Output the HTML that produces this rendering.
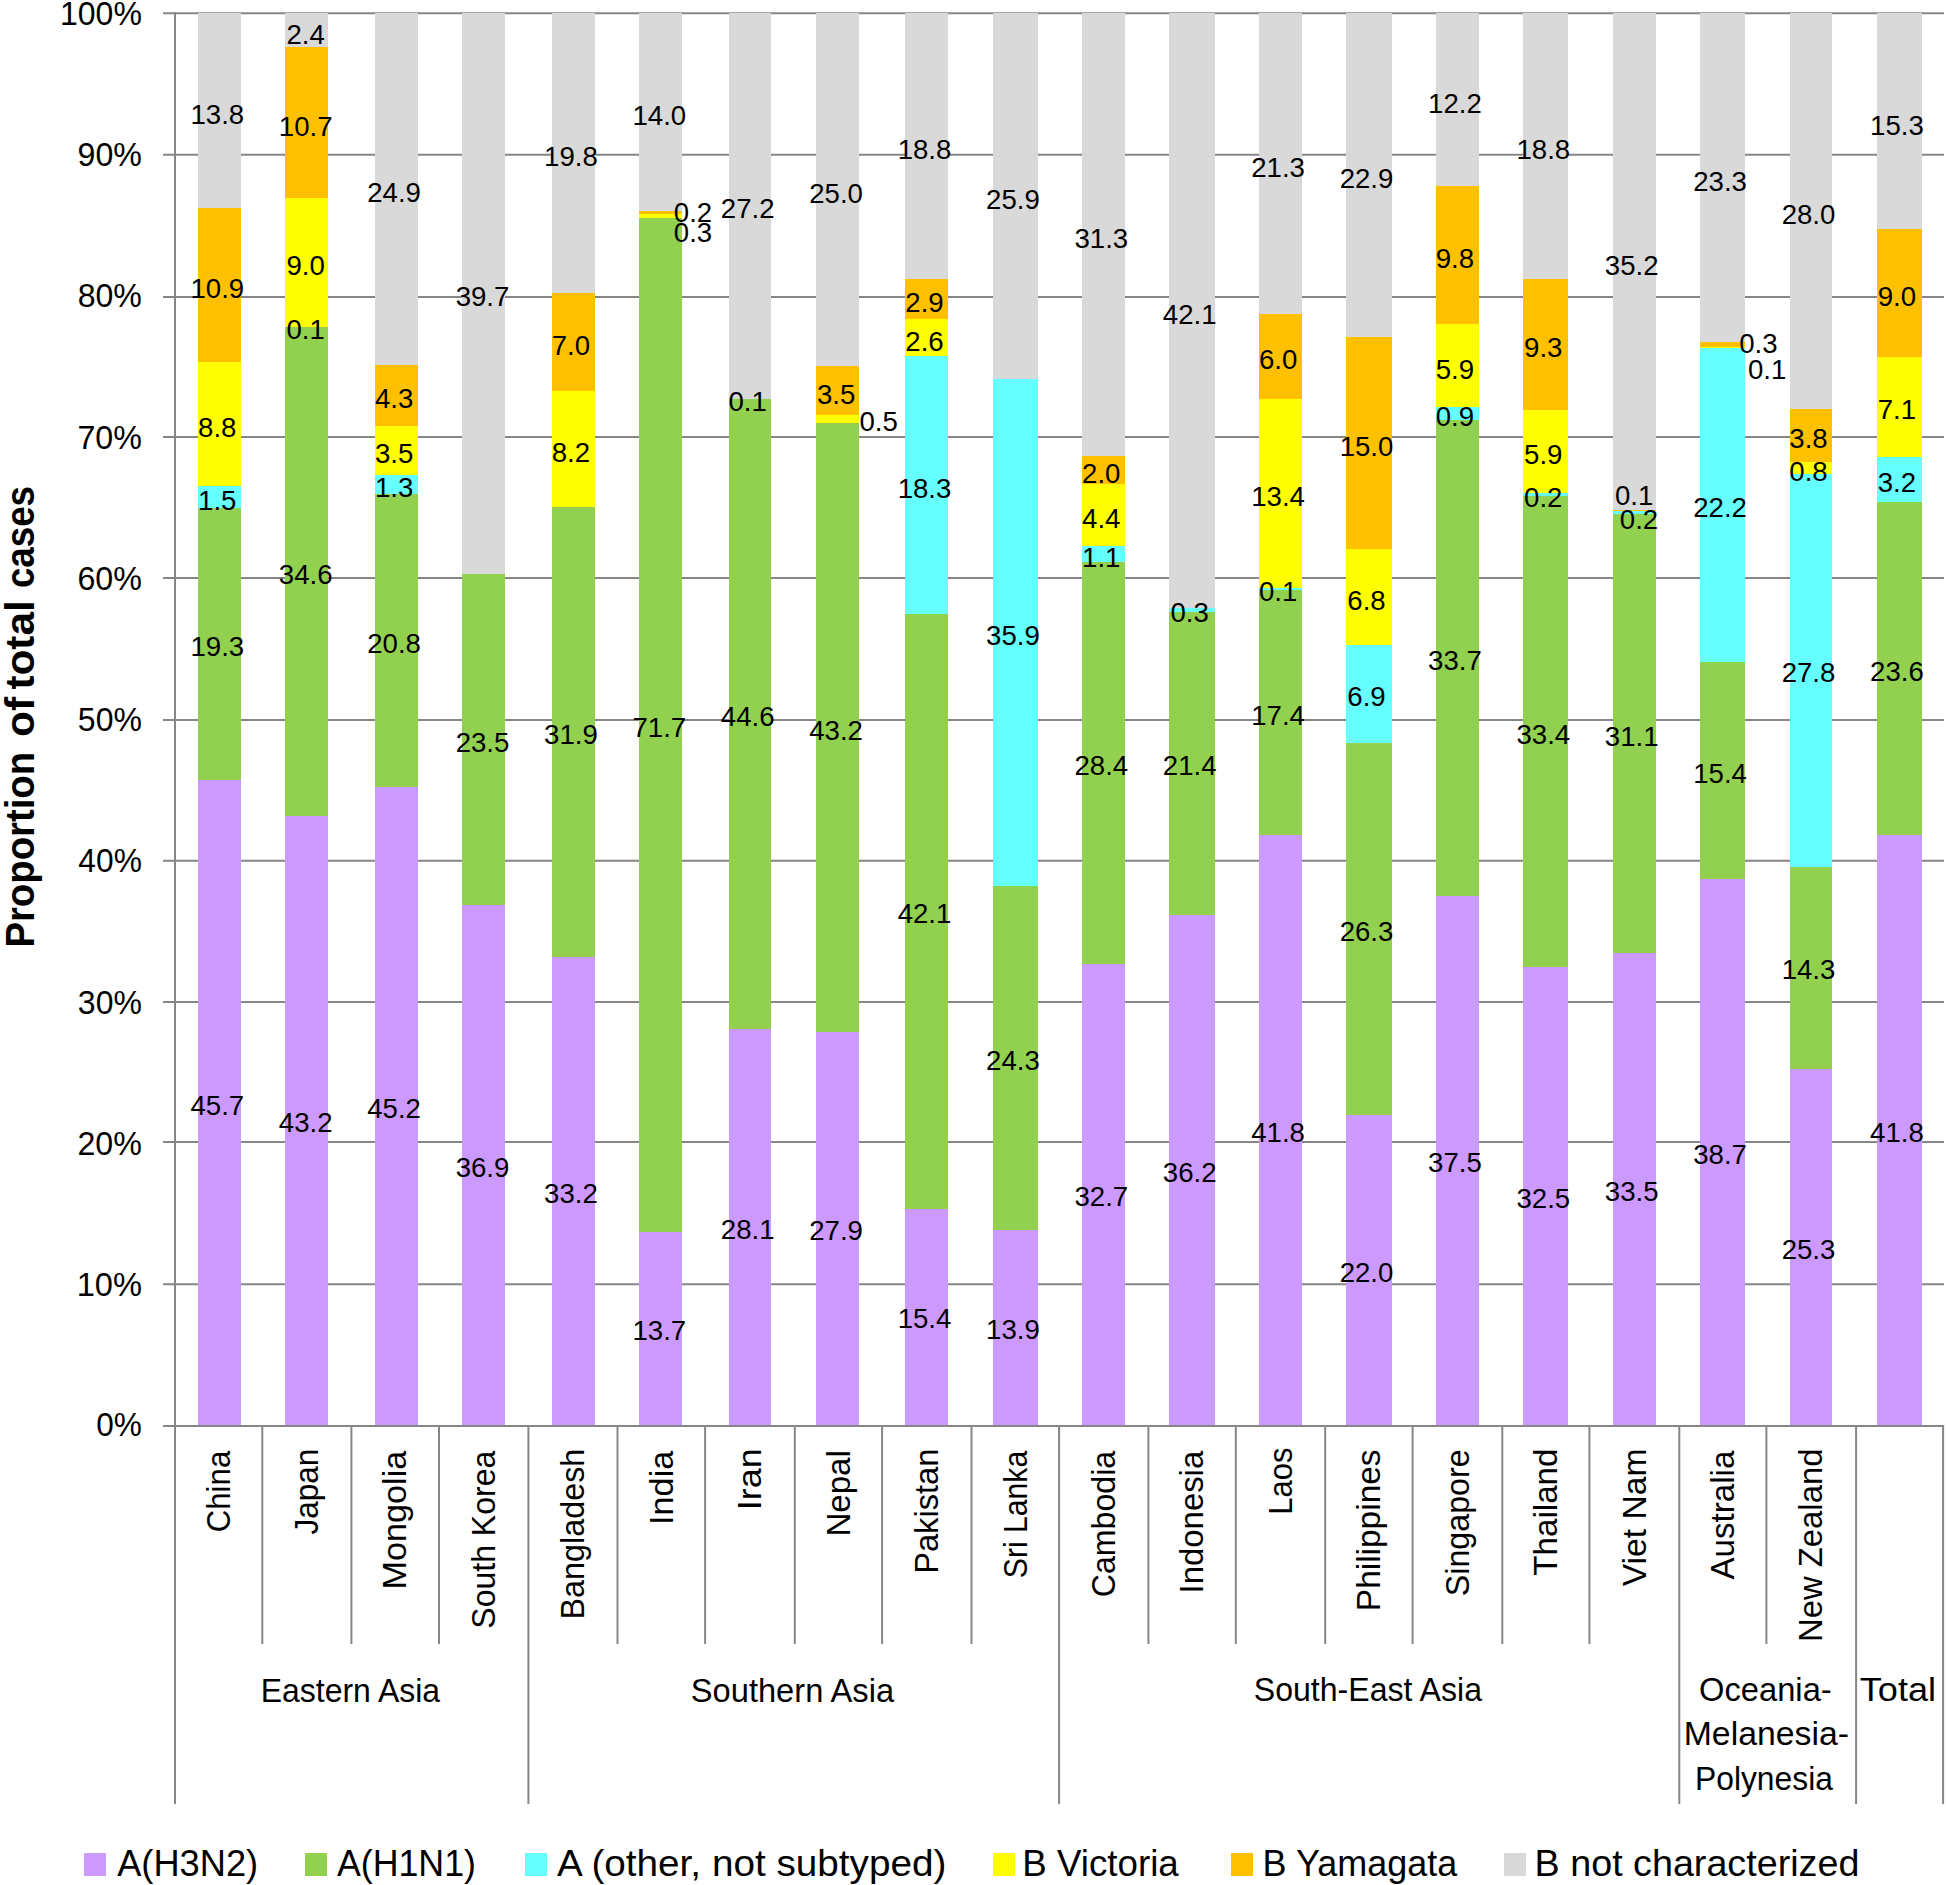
<!DOCTYPE html>
<html lang="en"><head><meta charset="utf-8"><title>Proportion of total cases by influenza virus type and subtype</title>
<style>html,body{margin:0;padding:0;background:#fff}body{width:1946px;height:1885px;overflow:hidden}svg{display:block}</style>
</head><body>
<svg width="1946" height="1885" viewBox="0 0 1946 1885" font-family="'Liberation Sans', sans-serif" fill="#000">
<rect width="1946" height="1885" fill="#fff"/>
<g stroke="#868686" stroke-width="2" fill="none">
<line x1="163" y1="1284.20" x2="1944.0" y2="1284.20"/>
<line x1="163" y1="1142.10" x2="1944.0" y2="1142.10"/>
<line x1="163" y1="1002.00" x2="1944.0" y2="1002.00"/>
<line x1="163" y1="860.70" x2="1944.0" y2="860.70"/>
<line x1="163" y1="720.10" x2="1944.0" y2="720.10"/>
<line x1="163" y1="578.00" x2="1944.0" y2="578.00"/>
<line x1="163" y1="437.00" x2="1944.0" y2="437.00"/>
<line x1="163" y1="296.90" x2="1944.0" y2="296.90"/>
<line x1="163" y1="154.80" x2="1944.0" y2="154.80"/>
<line x1="163" y1="13.20" x2="1944.0" y2="13.20"/>
</g>
<g shape-rendering="crispEdges">
<rect x="197.80" y="780.35" width="43.10" height="645.65" fill="#CC99FF"/>
<rect x="197.80" y="507.68" width="43.10" height="272.67" fill="#92D050"/>
<rect x="197.80" y="486.49" width="43.10" height="21.19" fill="#66FFFF"/>
<rect x="197.80" y="362.16" width="43.10" height="124.33" fill="#FFFF00"/>
<rect x="197.80" y="208.17" width="43.10" height="154.00" fill="#FFC000"/>
<rect x="197.80" y="13.20" width="43.10" height="194.97" fill="#D9D9D9"/>
<rect x="285.10" y="815.67" width="43.20" height="610.33" fill="#CC99FF"/>
<rect x="285.10" y="326.84" width="43.20" height="488.83" fill="#92D050"/>
<rect x="285.10" y="325.43" width="43.20" height="1.41" fill="#FFFF00"/>
<rect x="285.10" y="198.28" width="43.20" height="127.15" fill="#FFFF00"/>
<rect x="285.10" y="47.11" width="43.20" height="151.17" fill="#FFC000"/>
<rect x="285.10" y="13.20" width="43.20" height="33.91" fill="#D9D9D9"/>
<rect x="374.80" y="787.41" width="42.90" height="638.59" fill="#CC99FF"/>
<rect x="374.80" y="493.55" width="42.90" height="293.86" fill="#92D050"/>
<rect x="374.80" y="475.19" width="42.90" height="18.37" fill="#66FFFF"/>
<rect x="374.80" y="425.74" width="42.90" height="49.45" fill="#FFFF00"/>
<rect x="374.80" y="364.99" width="42.90" height="60.75" fill="#FFC000"/>
<rect x="374.80" y="13.20" width="42.90" height="351.79" fill="#D9D9D9"/>
<rect x="462.20" y="905.20" width="42.90" height="520.80" fill="#CC99FF"/>
<rect x="462.20" y="573.52" width="42.90" height="331.68" fill="#92D050"/>
<rect x="462.20" y="13.20" width="42.90" height="560.32" fill="#D9D9D9"/>
<rect x="551.60" y="957.42" width="43.10" height="468.58" fill="#CC99FF"/>
<rect x="551.60" y="507.19" width="43.10" height="450.23" fill="#92D050"/>
<rect x="551.60" y="391.45" width="43.10" height="115.73" fill="#FFFF00"/>
<rect x="551.60" y="292.65" width="43.10" height="98.80" fill="#FFC000"/>
<rect x="551.60" y="13.20" width="43.10" height="279.45" fill="#D9D9D9"/>
<rect x="638.50" y="1232.25" width="43.20" height="193.75" fill="#CC99FF"/>
<rect x="638.50" y="218.26" width="43.20" height="1013.99" fill="#92D050"/>
<rect x="638.50" y="214.02" width="43.20" height="4.24" fill="#FFFF00"/>
<rect x="638.50" y="211.19" width="43.20" height="2.83" fill="#FFC000"/>
<rect x="638.50" y="13.20" width="43.20" height="197.99" fill="#D9D9D9"/>
<rect x="728.50" y="1029.00" width="42.90" height="397.00" fill="#CC99FF"/>
<rect x="728.50" y="398.89" width="42.90" height="630.11" fill="#92D050"/>
<rect x="728.50" y="397.48" width="42.90" height="1.41" fill="#D9D9D9"/>
<rect x="728.50" y="13.20" width="42.90" height="384.28" fill="#D9D9D9"/>
<rect x="815.80" y="1032.22" width="43.20" height="393.78" fill="#CC99FF"/>
<rect x="815.80" y="422.50" width="43.20" height="609.72" fill="#92D050"/>
<rect x="815.80" y="415.45" width="43.20" height="7.06" fill="#FFFF00"/>
<rect x="815.80" y="366.05" width="43.20" height="49.40" fill="#FFC000"/>
<rect x="815.80" y="13.20" width="43.20" height="352.85" fill="#D9D9D9"/>
<rect x="905.20" y="1208.65" width="43.20" height="217.35" fill="#CC99FF"/>
<rect x="905.20" y="614.45" width="43.20" height="594.19" fill="#92D050"/>
<rect x="905.20" y="356.17" width="43.20" height="258.28" fill="#66FFFF"/>
<rect x="905.20" y="319.47" width="43.20" height="36.70" fill="#FFFF00"/>
<rect x="905.20" y="278.54" width="43.20" height="40.93" fill="#FFC000"/>
<rect x="905.20" y="13.20" width="43.20" height="265.34" fill="#D9D9D9"/>
<rect x="992.90" y="1229.62" width="44.70" height="196.38" fill="#CC99FF"/>
<rect x="992.90" y="886.31" width="44.70" height="343.31" fill="#92D050"/>
<rect x="992.90" y="379.12" width="44.70" height="507.20" fill="#66FFFF"/>
<rect x="992.90" y="13.20" width="44.70" height="365.92" fill="#D9D9D9"/>
<rect x="1081.90" y="963.55" width="43.10" height="462.45" fill="#CC99FF"/>
<rect x="1081.90" y="561.92" width="43.10" height="401.64" fill="#92D050"/>
<rect x="1081.90" y="546.36" width="43.10" height="15.56" fill="#66FFFF"/>
<rect x="1081.90" y="484.13" width="43.10" height="62.23" fill="#FFFF00"/>
<rect x="1081.90" y="455.85" width="43.10" height="28.28" fill="#FFC000"/>
<rect x="1081.90" y="13.20" width="43.10" height="442.65" fill="#D9D9D9"/>
<rect x="1169.20" y="914.57" width="45.50" height="511.43" fill="#CC99FF"/>
<rect x="1169.20" y="612.23" width="45.50" height="302.34" fill="#92D050"/>
<rect x="1169.20" y="607.99" width="45.50" height="4.24" fill="#66FFFF"/>
<rect x="1169.20" y="13.20" width="45.50" height="594.79" fill="#D9D9D9"/>
<rect x="1258.90" y="835.45" width="43.20" height="590.55" fill="#CC99FF"/>
<rect x="1258.90" y="589.62" width="43.20" height="245.83" fill="#92D050"/>
<rect x="1258.90" y="588.21" width="43.20" height="1.41" fill="#66FFFF"/>
<rect x="1258.90" y="398.89" width="43.20" height="189.32" fill="#FFFF00"/>
<rect x="1258.90" y="314.13" width="43.20" height="84.77" fill="#FFC000"/>
<rect x="1258.90" y="13.20" width="43.20" height="300.93" fill="#D9D9D9"/>
<rect x="1346.30" y="1114.87" width="45.20" height="311.13" fill="#CC99FF"/>
<rect x="1346.30" y="742.93" width="45.20" height="371.94" fill="#92D050"/>
<rect x="1346.30" y="645.35" width="45.20" height="97.58" fill="#66FFFF"/>
<rect x="1346.30" y="549.19" width="45.20" height="96.17" fill="#FFFF00"/>
<rect x="1346.30" y="337.06" width="45.20" height="212.13" fill="#FFC000"/>
<rect x="1346.30" y="13.20" width="45.20" height="323.86" fill="#D9D9D9"/>
<rect x="1435.70" y="896.20" width="43.20" height="529.80" fill="#CC99FF"/>
<rect x="1435.70" y="420.09" width="43.20" height="476.11" fill="#92D050"/>
<rect x="1435.70" y="407.37" width="43.20" height="12.72" fill="#66FFFF"/>
<rect x="1435.70" y="324.02" width="43.20" height="83.36" fill="#FFFF00"/>
<rect x="1435.70" y="185.56" width="43.20" height="138.45" fill="#FFC000"/>
<rect x="1435.70" y="13.20" width="43.20" height="172.36" fill="#D9D9D9"/>
<rect x="1523.10" y="967.30" width="45.20" height="458.70" fill="#CC99FF"/>
<rect x="1523.10" y="495.89" width="45.20" height="471.40" fill="#92D050"/>
<rect x="1523.10" y="493.07" width="45.20" height="2.82" fill="#66FFFF"/>
<rect x="1523.10" y="409.80" width="45.20" height="83.27" fill="#FFFF00"/>
<rect x="1523.10" y="278.54" width="45.20" height="131.26" fill="#FFC000"/>
<rect x="1523.10" y="13.20" width="45.20" height="265.34" fill="#D9D9D9"/>
<rect x="1612.50" y="953.18" width="43.20" height="472.82" fill="#CC99FF"/>
<rect x="1612.50" y="514.24" width="43.20" height="438.94" fill="#92D050"/>
<rect x="1612.50" y="511.42" width="43.20" height="2.82" fill="#66FFFF"/>
<rect x="1612.50" y="510.01" width="43.20" height="1.41" fill="#FFC000"/>
<rect x="1612.50" y="13.20" width="43.20" height="496.81" fill="#D9D9D9"/>
<rect x="1699.90" y="879.25" width="45.40" height="546.75" fill="#CC99FF"/>
<rect x="1699.90" y="661.68" width="45.40" height="217.57" fill="#92D050"/>
<rect x="1699.90" y="348.03" width="45.40" height="313.64" fill="#66FFFF"/>
<rect x="1699.90" y="346.62" width="45.40" height="1.41" fill="#FFFF00"/>
<rect x="1699.90" y="342.38" width="45.40" height="4.24" fill="#FFC000"/>
<rect x="1699.90" y="13.20" width="45.40" height="329.18" fill="#D9D9D9"/>
<rect x="1789.50" y="1068.56" width="42.90" height="357.44" fill="#CC99FF"/>
<rect x="1789.50" y="866.53" width="42.90" height="202.03" fill="#92D050"/>
<rect x="1789.50" y="473.77" width="42.90" height="392.76" fill="#66FFFF"/>
<rect x="1789.50" y="462.47" width="42.90" height="11.30" fill="#FFFF00"/>
<rect x="1789.50" y="408.78" width="42.90" height="53.69" fill="#FFC000"/>
<rect x="1789.50" y="13.20" width="42.90" height="395.58" fill="#D9D9D9"/>
<rect x="1876.90" y="835.45" width="45.20" height="590.55" fill="#CC99FF"/>
<rect x="1876.90" y="502.03" width="45.20" height="333.42" fill="#92D050"/>
<rect x="1876.90" y="456.82" width="45.20" height="45.21" fill="#66FFFF"/>
<rect x="1876.90" y="356.51" width="45.20" height="100.31" fill="#FFFF00"/>
<rect x="1876.90" y="229.36" width="45.20" height="127.15" fill="#FFC000"/>
<rect x="1876.90" y="13.20" width="45.20" height="216.16" fill="#D9D9D9"/>
</g>
<g stroke="#868686" stroke-width="2" fill="none">
<line x1="175.0" y1="12.2" x2="175.0" y2="1804"/>
<line x1="163" y1="1426.0" x2="1944.1" y2="1426.0"/>
<line x1="262.30" y1="1426.0" x2="262.30" y2="1644"/>
<line x1="351.40" y1="1426.0" x2="351.40" y2="1644"/>
<line x1="439.00" y1="1426.0" x2="439.00" y2="1644"/>
<line x1="528.40" y1="1426.0" x2="528.40" y2="1804"/>
<line x1="617.50" y1="1426.0" x2="617.50" y2="1644"/>
<line x1="705.10" y1="1426.0" x2="705.10" y2="1644"/>
<line x1="794.80" y1="1426.0" x2="794.80" y2="1644"/>
<line x1="882.10" y1="1426.0" x2="882.10" y2="1644"/>
<line x1="971.50" y1="1426.0" x2="971.50" y2="1644"/>
<line x1="1059.10" y1="1426.0" x2="1059.10" y2="1804"/>
<line x1="1148.40" y1="1426.0" x2="1148.40" y2="1644"/>
<line x1="1235.80" y1="1426.0" x2="1235.80" y2="1644"/>
<line x1="1325.20" y1="1426.0" x2="1325.20" y2="1644"/>
<line x1="1412.60" y1="1426.0" x2="1412.60" y2="1644"/>
<line x1="1502.30" y1="1426.0" x2="1502.30" y2="1644"/>
<line x1="1589.40" y1="1426.0" x2="1589.40" y2="1644"/>
<line x1="1679.30" y1="1426.0" x2="1679.30" y2="1804"/>
<line x1="1766.40" y1="1426.0" x2="1766.40" y2="1644"/>
<line x1="1856.10" y1="1426.0" x2="1856.10" y2="1804"/>
<line x1="1943.10" y1="1426.0" x2="1943.10" y2="1804"/>
</g>
<g>
<text x="96.28" y="1436.06" font-size="33.6" textLength="45.61" lengthAdjust="spacingAndGlyphs">0%</text>
<text x="76.67" y="1296.18" font-size="33.6" textLength="65.24" lengthAdjust="spacingAndGlyphs">10%</text>
<text x="77.47" y="1154.90" font-size="33.6" textLength="64.43" lengthAdjust="spacingAndGlyphs">20%</text>
<text x="77.86" y="1013.62" font-size="33.6" textLength="64.03" lengthAdjust="spacingAndGlyphs">30%</text>
<text x="78.34" y="872.34" font-size="33.6" textLength="63.54" lengthAdjust="spacingAndGlyphs">40%</text>
<text x="77.86" y="731.06" font-size="33.6" textLength="64.03" lengthAdjust="spacingAndGlyphs">50%</text>
<text x="77.47" y="589.78" font-size="33.6" textLength="64.43" lengthAdjust="spacingAndGlyphs">60%</text>
<text x="77.47" y="448.50" font-size="33.6" textLength="64.43" lengthAdjust="spacingAndGlyphs">70%</text>
<text x="77.67" y="307.22" font-size="33.6" textLength="64.23" lengthAdjust="spacingAndGlyphs">80%</text>
<text x="77.57" y="165.94" font-size="33.6" textLength="64.33" lengthAdjust="spacingAndGlyphs">90%</text>
<text x="60.02" y="24.66" font-size="33.6" textLength="81.87" lengthAdjust="spacingAndGlyphs">100%</text>
</g>
<text transform="translate(34.2,0) rotate(-90)" font-size="41" font-weight="bold"><tspan x="-947.62" textLength="195.78" lengthAdjust="spacingAndGlyphs">Proportion</tspan> <tspan x="-737.06" textLength="40.16" lengthAdjust="spacingAndGlyphs">of</tspan> <tspan x="-689.62" textLength="89.35" lengthAdjust="spacingAndGlyphs">total</tspan> <tspan x="-588.03" textLength="101.96" lengthAdjust="spacingAndGlyphs">cases</tspan></text>
<g font-size="27.6" text-anchor="middle">
<text x="217.3" y="1114.6">45.7</text>
<text x="217.3" y="656.3">19.3</text>
<text x="217.3" y="509.6">1.5</text>
<text x="217.3" y="437.0">8.8</text>
<text x="217.3" y="298.1">10.9</text>
<text x="217.3" y="123.9">13.8</text>
<text x="305.7" y="1132.2">43.2</text>
<text x="305.7" y="583.7">34.6</text>
<text x="305.7" y="339.0">0.1</text>
<text x="305.7" y="274.8">9.0</text>
<text x="305.7" y="135.9">10.7</text>
<text x="305.7" y="43.5">2.4</text>
<text x="394.1" y="1118.1">45.2</text>
<text x="394.1" y="652.8">20.8</text>
<text x="394.1" y="496.9">1.3</text>
<text x="394.1" y="463.1">3.5</text>
<text x="394.1" y="408.1">4.3</text>
<text x="394.1" y="202.2">24.9</text>
<text x="482.5" y="1176.9">36.9</text>
<text x="482.5" y="751.5">23.5</text>
<text x="482.5" y="306.3">39.7</text>
<text x="570.9" y="1203.0">33.2</text>
<text x="570.9" y="744.4">31.9</text>
<text x="570.9" y="461.9">8.2</text>
<text x="570.9" y="354.9">7.0</text>
<text x="570.9" y="166.1">19.8</text>
<text x="659.3" y="1340.2">13.7</text>
<text x="659.3" y="737.4">71.7</text>
<text x="693.0" y="241.5">0.3</text>
<text x="693.0" y="221.5">0.2</text>
<text x="659.3" y="125.4">14.0</text>
<text x="747.7" y="1238.7">28.1</text>
<text x="747.7" y="726.1">44.6</text>
<text x="747.7" y="410.9">0.1</text>
<text x="747.7" y="218.4">27.2</text>
<text x="836.1" y="1240.3">27.9</text>
<text x="836.1" y="739.5">43.2</text>
<text x="878.6" y="430.5">0.5</text>
<text x="836.1" y="403.5">3.5</text>
<text x="836.1" y="202.7">25.0</text>
<text x="924.5" y="1328.4">15.4</text>
<text x="924.5" y="923.3">42.1</text>
<text x="924.5" y="497.9">18.3</text>
<text x="924.5" y="350.6">2.6</text>
<text x="924.5" y="311.9">2.9</text>
<text x="924.5" y="159.0">18.8</text>
<text x="1012.9" y="1338.8">13.9</text>
<text x="1012.9" y="1069.5">24.3</text>
<text x="1012.9" y="645.0">35.9</text>
<text x="1012.9" y="209.2">25.9</text>
<text x="1101.3" y="1206.0">32.7</text>
<text x="1101.3" y="774.8">28.4</text>
<text x="1101.3" y="566.6">1.1</text>
<text x="1101.3" y="527.7">4.4</text>
<text x="1101.3" y="482.6">2.0</text>
<text x="1101.3" y="247.5">31.3</text>
<text x="1189.7" y="1181.6">36.2</text>
<text x="1189.7" y="775.4">21.4</text>
<text x="1189.7" y="622.4">0.3</text>
<text x="1189.7" y="323.5">42.1</text>
<text x="1278.1" y="1142.1">41.8</text>
<text x="1278.1" y="724.7">17.4</text>
<text x="1278.1" y="601.3">0.1</text>
<text x="1278.1" y="506.1">13.4</text>
<text x="1278.1" y="369.3">6.0</text>
<text x="1278.1" y="176.8">21.3</text>
<text x="1366.5" y="1281.6">22.0</text>
<text x="1366.5" y="940.7">26.3</text>
<text x="1366.5" y="706.3">6.9</text>
<text x="1366.5" y="609.6">6.8</text>
<text x="1366.5" y="455.7">15.0</text>
<text x="1366.5" y="188.2">22.9</text>
<text x="1454.9" y="1172.4">37.5</text>
<text x="1454.9" y="670.4">33.7</text>
<text x="1454.9" y="426.4">0.9</text>
<text x="1454.9" y="378.5">5.9</text>
<text x="1454.9" y="267.8">9.8</text>
<text x="1454.9" y="112.6">12.2</text>
<text x="1543.3" y="1207.9">32.5</text>
<text x="1543.3" y="743.7">33.4</text>
<text x="1543.3" y="507.0">0.2</text>
<text x="1543.3" y="464.0">5.9</text>
<text x="1543.3" y="357.0">9.3</text>
<text x="1543.3" y="159.0">18.8</text>
<text x="1631.7" y="1200.9">33.5</text>
<text x="1631.7" y="745.8">31.1</text>
<text x="1639.0" y="529.4">0.2</text>
<text x="1634.1" y="505.1">0.1</text>
<text x="1631.7" y="274.6">35.2</text>
<text x="1720.1" y="1164.0">38.7</text>
<text x="1720.1" y="782.5">15.4</text>
<text x="1720.1" y="517.4">22.2</text>
<text x="1767.2" y="379.1">0.1</text>
<text x="1758.4" y="352.5">0.3</text>
<text x="1720.1" y="190.9">23.3</text>
<text x="1808.5" y="1258.5">25.3</text>
<text x="1808.5" y="979.2">14.3</text>
<text x="1808.5" y="682.4">27.8</text>
<text x="1808.5" y="480.7">0.8</text>
<text x="1808.5" y="448.3">3.8</text>
<text x="1808.5" y="224.0">28.0</text>
<text x="1896.9" y="1142.1">41.8</text>
<text x="1896.9" y="681.0">23.6</text>
<text x="1896.9" y="492.0">3.2</text>
<text x="1896.9" y="419.4">7.1</text>
<text x="1896.9" y="305.8">9.0</text>
<text x="1896.9" y="134.5">15.3</text>
</g>
<g>
<text transform="translate(229.85,1532.21) rotate(-90)" font-size="33" textLength="81.43" lengthAdjust="spacingAndGlyphs">China</text>
<text transform="translate(318.05,1534.38) rotate(-90)" font-size="33" textLength="85.69" lengthAdjust="spacingAndGlyphs">Japan</text>
<text transform="translate(406.40,1589.39) rotate(-90)" font-size="33" textLength="138.61" lengthAdjust="spacingAndGlyphs">Mongolia</text>
<text transform="translate(494.90,1628.65) rotate(-90)" font-size="33" textLength="177.92" lengthAdjust="spacingAndGlyphs">South Korea</text>
<text transform="translate(584.15,1619.55) rotate(-90)" font-size="33" textLength="170.92" lengthAdjust="spacingAndGlyphs">Bangladesh</text>
<text transform="translate(672.50,1524.91) rotate(-90)" font-size="33" textLength="74.17" lengthAdjust="spacingAndGlyphs">India</text>
<text transform="translate(761.15,1510.16) rotate(-90)" font-size="33" textLength="61.81" lengthAdjust="spacingAndGlyphs">Iran</text>
<text transform="translate(849.65,1536.60) rotate(-90)" font-size="33" textLength="86.33" lengthAdjust="spacingAndGlyphs">Nepal</text>
<text transform="translate(938.00,1573.87) rotate(-90)" font-size="33" textLength="125.32" lengthAdjust="spacingAndGlyphs">Pakistan</text>
<text transform="translate(1026.50,1578.17) rotate(-90)" font-size="33" textLength="127.39" lengthAdjust="spacingAndGlyphs">Sri Lanka</text>
<text transform="translate(1114.95,1597.26) rotate(-90)" font-size="33" textLength="146.47" lengthAdjust="spacingAndGlyphs">Cambodia</text>
<text transform="translate(1203.30,1593.39) rotate(-90)" font-size="33" textLength="142.61" lengthAdjust="spacingAndGlyphs">Indonesia</text>
<text transform="translate(1291.70,1514.63) rotate(-90)" font-size="33" textLength="67.01" lengthAdjust="spacingAndGlyphs">Laos</text>
<text transform="translate(1380.10,1611.13) rotate(-90)" font-size="33" textLength="161.65" lengthAdjust="spacingAndGlyphs">Philippines</text>
<text transform="translate(1468.65,1596.27) rotate(-90)" font-size="33" textLength="146.98" lengthAdjust="spacingAndGlyphs">Singapore</text>
<text transform="translate(1557.05,1575.70) rotate(-90)" font-size="33" textLength="127.20" lengthAdjust="spacingAndGlyphs">Thailand</text>
<text transform="translate(1645.55,1586.30) rotate(-90)" font-size="33" textLength="137.86" lengthAdjust="spacingAndGlyphs">Viet Nam</text>
<text transform="translate(1734.05,1579.50) rotate(-90)" font-size="33" textLength="128.79" lengthAdjust="spacingAndGlyphs">Australia</text>
<text transform="translate(1822.45,1641.99) rotate(-90)" font-size="33" textLength="193.41" lengthAdjust="spacingAndGlyphs">New Zealand</text>
</g>
<g>
<text x="260.79" y="1701.50" font-size="33" textLength="179.29" lengthAdjust="spacingAndGlyphs">Eastern Asia</text>
<text x="690.82" y="1701.50" font-size="33" textLength="203.26" lengthAdjust="spacingAndGlyphs">Southern Asia</text>
<text x="1253.74" y="1701.10" font-size="33" textLength="228.27" lengthAdjust="spacingAndGlyphs">South-East Asia</text>
<text x="1699.12" y="1701.10" font-size="33" textLength="132.57" lengthAdjust="spacingAndGlyphs">Oceania-</text>
<text x="1683.73" y="1745.10" font-size="33" textLength="165.31" lengthAdjust="spacingAndGlyphs">Melanesia-</text>
<text x="1695.00" y="1789.80" font-size="33" textLength="137.89" lengthAdjust="spacingAndGlyphs">Polynesia</text>
<text x="1859.73" y="1701.10" font-size="33" textLength="76.38" lengthAdjust="spacingAndGlyphs">Total</text>
</g>
<g>
<rect x="84" y="1853" width="22" height="23.3" fill="#CC99FF" shape-rendering="crispEdges"/>
<text x="117.20" y="1875.80" font-size="36.2" textLength="140.91" lengthAdjust="spacingAndGlyphs">A(H3N2)</text>
<rect x="304.8" y="1853" width="22" height="23.3" fill="#92D050" shape-rendering="crispEdges"/>
<text x="336.90" y="1875.80" font-size="36.2" textLength="139.08" lengthAdjust="spacingAndGlyphs">A(H1N1)</text>
<rect x="525" y="1853" width="22" height="23.3" fill="#66FFFF" shape-rendering="crispEdges"/>
<text x="556.99" y="1875.80" font-size="36.2" textLength="389.41" lengthAdjust="spacingAndGlyphs">A (other, not subtyped)</text>
<rect x="992.5" y="1853" width="22" height="23.3" fill="#FFFF00" shape-rendering="crispEdges"/>
<text x="1022.26" y="1875.80" font-size="36.2" textLength="156.50" lengthAdjust="spacingAndGlyphs">B Victoria</text>
<rect x="1230.5" y="1853" width="22" height="23.3" fill="#FFC000" shape-rendering="crispEdges"/>
<text x="1262.62" y="1875.80" font-size="36.2" textLength="194.56" lengthAdjust="spacingAndGlyphs">B Yamagata</text>
<rect x="1504" y="1853" width="22" height="23.3" fill="#D9D9D9" shape-rendering="crispEdges"/>
<text x="1534.58" y="1875.80" font-size="36.2" textLength="324.81" lengthAdjust="spacingAndGlyphs">B not characterized</text>
</g>
</svg>
</body></html>
